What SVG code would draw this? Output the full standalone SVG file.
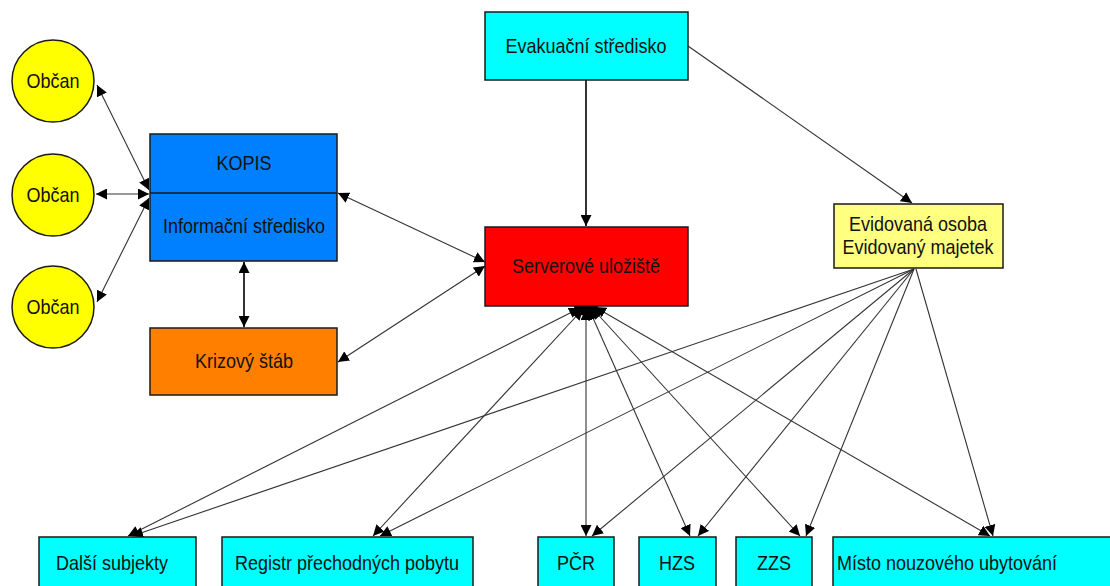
<svg xmlns="http://www.w3.org/2000/svg" width="1110" height="586" viewBox="0 0 1110 586">
  <defs>
    <marker id="arr" viewBox="0 0 10 10" refX="10" refY="5" markerWidth="11" markerHeight="11" markerUnits="userSpaceOnUse" orient="auto-start-reverse">
      <path d="M0,0 L10,5 L0,10 z" fill="#000"/>
    </marker>
    <style>
      .box { stroke: #1a1a1a; stroke-width: 1.5; }
      .t { font-family: "Liberation Sans", Arial, sans-serif; font-size: 20px; fill: #111; text-anchor: middle; dominant-baseline: central; }
      .c { fill: none; stroke: #333; stroke-width: 1.1; }
      .cs { fill: none; stroke: #000; stroke-width: 1.6; }
    </style>
  </defs>
  <rect width="1110" height="586" fill="#fff"/>

  <!-- connectors -->
  <g id="connectors">
    <!-- KOPIS to citizens -->
    <line class="c" x1="149" y1="190" x2="97" y2="85" marker-start="url(#arr)" marker-end="url(#arr)"/>
    <line class="c" x1="149" y1="194" x2="96" y2="194" marker-start="url(#arr)" marker-end="url(#arr)"/>
    <line class="c" x1="149" y1="198" x2="97" y2="302" marker-start="url(#arr)" marker-end="url(#arr)"/>
    <!-- KOPIS / Krizový štáb -->
    <line class="cs" x1="244" y1="262" x2="244" y2="327" marker-start="url(#arr)" marker-end="url(#arr)"/>
    <!-- server links -->
    <line class="c" x1="485" y1="262" x2="338" y2="193" marker-start="url(#arr)" marker-end="url(#arr)"/>
    <line class="c" x1="485" y1="266" x2="338" y2="362" marker-start="url(#arr)" marker-end="url(#arr)"/>
    <line class="cs" x1="586" y1="80" x2="586" y2="226" marker-end="url(#arr)"/>
    <line class="c" x1="688" y1="46" x2="912" y2="203" marker-end="url(#arr)"/>
    <!-- server to recipients -->
    <line class="c" x1="580" y1="308" x2="128" y2="536" marker-start="url(#arr)" marker-end="url(#arr)"/>
    <line class="c" x1="583" y1="309" x2="373" y2="536" marker-start="url(#arr)" marker-end="url(#arr)"/>
    <line class="c" x1="586" y1="309" x2="586" y2="536" marker-start="url(#arr)" marker-end="url(#arr)"/>
    <line class="c" x1="589" y1="309" x2="690" y2="536" marker-start="url(#arr)" marker-end="url(#arr)"/>
    <line class="c" x1="592" y1="308" x2="800" y2="536" marker-start="url(#arr)" marker-end="url(#arr)"/>
    <line class="c" x1="595" y1="307" x2="990" y2="536" marker-start="url(#arr)" marker-end="url(#arr)"/>
    <path d="M574,306 A12,10 0 0 0 598,306 z" fill="#000"/>
    <!-- registered items to recipients -->
    <line class="c" x1="914" y1="269" x2="132" y2="536" marker-end="url(#arr)"/>
    <line class="c" x1="914" y1="269" x2="380" y2="536" marker-end="url(#arr)"/>
    <line class="c" x1="914" y1="269" x2="592" y2="536" marker-end="url(#arr)"/>
    <line class="c" x1="914" y1="269" x2="698" y2="536" marker-end="url(#arr)"/>
    <line class="c" x1="914" y1="269" x2="806" y2="536" marker-end="url(#arr)"/>
    <line class="c" x1="916" y1="269" x2="993" y2="536" marker-end="url(#arr)"/>
  </g>

  <!-- citizens -->
  <g id="obcan1">
    <circle class="box" cx="53" cy="81" r="41" fill="#ffff00"/>
    <text class="t" transform="translate(53,81) scale(0.9,1)">Občan</text>
  </g>
  <g id="obcan2">
    <circle class="box" cx="53" cy="195" r="41" fill="#ffff00"/>
    <text class="t" transform="translate(53,195) scale(0.9,1)">Občan</text>
  </g>
  <g id="obcan3">
    <circle class="box" cx="53" cy="307" r="41" fill="#ffff00"/>
    <text class="t" transform="translate(53,307) scale(0.9,1)">Občan</text>
  </g>

  <g id="kopis">
    <rect class="box" x="150" y="134" width="187" height="127" fill="#0080ff"/>
    <line x1="150" y1="193" x2="337" y2="193" stroke="#1a1a1a" stroke-width="1.5"/>
    <text class="t" transform="translate(244,163) scale(0.9,1)">KOPIS</text>
    <text class="t" transform="translate(244,226) scale(0.9,1)">Informační středisko</text>
  </g>

  <g id="krizovy-stab">
    <rect class="box" x="150" y="328" width="187" height="67" fill="#ff8000"/>
    <text class="t" transform="translate(244,361) scale(0.9,1)">Krizový štáb</text>
  </g>

  <g id="evakuacni-stredisko">
    <rect class="box" x="485" y="12" width="203" height="68" fill="#00ffff"/>
    <text class="t" transform="translate(586,46) scale(0.9,1)">Evakuační středisko</text>
  </g>

  <g id="serverove-uloziste">
    <rect class="box" x="485" y="227" width="203" height="79" fill="#ff0000"/>
    <text class="t" transform="translate(586,266) scale(0.9,1)">Serverové uložiště</text>
  </g>

  <g id="evidovana-osoba">
    <rect class="box" x="834" y="204" width="169" height="64" fill="#ffff80"/>
    <text class="t" transform="translate(918,224) scale(0.9,1)">Evidovaná osoba</text>
    <text class="t" transform="translate(918,247) scale(0.9,1)">Evidovaný majetek</text>
  </g>

  <!-- recipients -->
  <g id="dalsi-subjekty">
    <rect class="box" x="39" y="537" width="157" height="60" fill="#00ffff"/>
    <text class="t" transform="translate(112,563) scale(0.9,1)">Další subjekty</text>
  </g>
  <g id="registr">
    <rect class="box" x="222" y="537" width="251" height="60" fill="#00ffff"/>
    <text class="t" transform="translate(347,563) scale(0.9,1)">Registr přechodných pobytu</text>
  </g>
  <g id="pcr">
    <rect class="box" x="538" y="537" width="76" height="60" fill="#00ffff"/>
    <text class="t" transform="translate(576,563) scale(0.9,1)">PČR</text>
  </g>
  <g id="hzs">
    <rect class="box" x="639" y="537" width="77" height="60" fill="#00ffff"/>
    <text class="t" transform="translate(677,563) scale(0.9,1)">HZS</text>
  </g>
  <g id="zzs">
    <rect class="box" x="736" y="537" width="76" height="60" fill="#00ffff"/>
    <text class="t" transform="translate(774,563) scale(0.9,1)">ZZS</text>
  </g>
  <g id="misto-ubytovani">
    <rect class="box" x="833" y="537" width="290" height="60" fill="#00ffff"/>
    <text class="t" transform="translate(947,563) scale(0.9,1)">Místo nouzového ubytování</text>
  </g>
</svg>
